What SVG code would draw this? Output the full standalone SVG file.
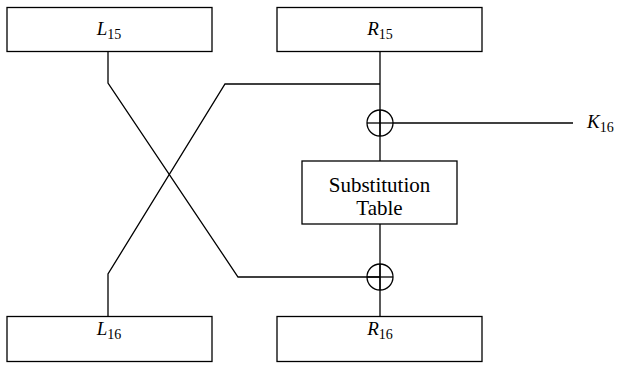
<svg xmlns="http://www.w3.org/2000/svg" width="617" height="365" viewBox="0 0 617 365" font-family="'Liberation Serif', serif">
<style>
.box{fill:#fff;stroke:#000;stroke-width:1.3}
.ln{fill:none;stroke:#000;stroke-width:1.3}
.lbl{font-size:19px;fill:#000}
.st{font-size:21px}
.v{font-style:italic}
.sub{font-size:14px}
</style>
<rect width="617" height="365" fill="#fff"/>
<g id="connectors">
<polyline class="ln" points="108,52 108,83 238,277 380,277"/>
<polyline class="ln" points="380,84 225,84 108,274 108,317"/>
<line class="ln" x1="380" y1="52" x2="380" y2="161"/>
<line class="ln" x1="380" y1="224" x2="380" y2="317"/>
<line class="ln" x1="393" y1="123" x2="573" y2="123"/>
</g>
<g id="L15"><rect class="box" x="7" y="7.5" width="205" height="44"/><text class="lbl" font-family="Liberation Serif" x="109" y="35" text-anchor="middle"><tspan class="v">L</tspan><tspan class="sub" dy="4">15</tspan></text></g>
<g id="R15"><rect class="box" x="277" y="7.5" width="205" height="44"/><text class="lbl" font-family="Liberation Serif" x="380" y="35" text-anchor="middle"><tspan class="v">R</tspan><tspan class="sub" dy="4">15</tspan></text></g>
<g id="xor1"><circle class="ln" cx="380" cy="123" r="13" fill="#fff"/><line class="ln" x1="367" y1="123" x2="393" y2="123"/><line class="ln" x1="380" y1="110" x2="380" y2="136"/></g>
<g id="K16"><text class="lbl" font-family="Liberation Serif" x="587" y="128"><tspan class="v">K</tspan><tspan class="sub" dy="4">16</tspan></text></g>
<g id="subst"><rect class="box" x="302" y="161" width="155" height="63"/><text class="lbl st" font-family="Liberation Serif" x="379.5" y="192" text-anchor="middle">Substitution</text><text class="lbl st" font-family="Liberation Serif" x="379.5" y="215" text-anchor="middle">Table</text></g>
<g id="xor2"><circle class="ln" cx="380" cy="277" r="13" fill="#fff"/><line class="ln" x1="367" y1="277" x2="393" y2="277"/><line class="ln" x1="380" y1="264" x2="380" y2="290"/></g>
<g id="L16"><rect class="box" x="7" y="316.5" width="205" height="45"/><text class="lbl" font-family="Liberation Serif" x="109" y="335" text-anchor="middle"><tspan class="v">L</tspan><tspan class="sub" dy="4">16</tspan></text></g>
<g id="R16"><rect class="box" x="277" y="316.5" width="205" height="45"/><text class="lbl" font-family="Liberation Serif" x="380" y="335" text-anchor="middle"><tspan class="v">R</tspan><tspan class="sub" dy="4">16</tspan></text></g>
</svg>
